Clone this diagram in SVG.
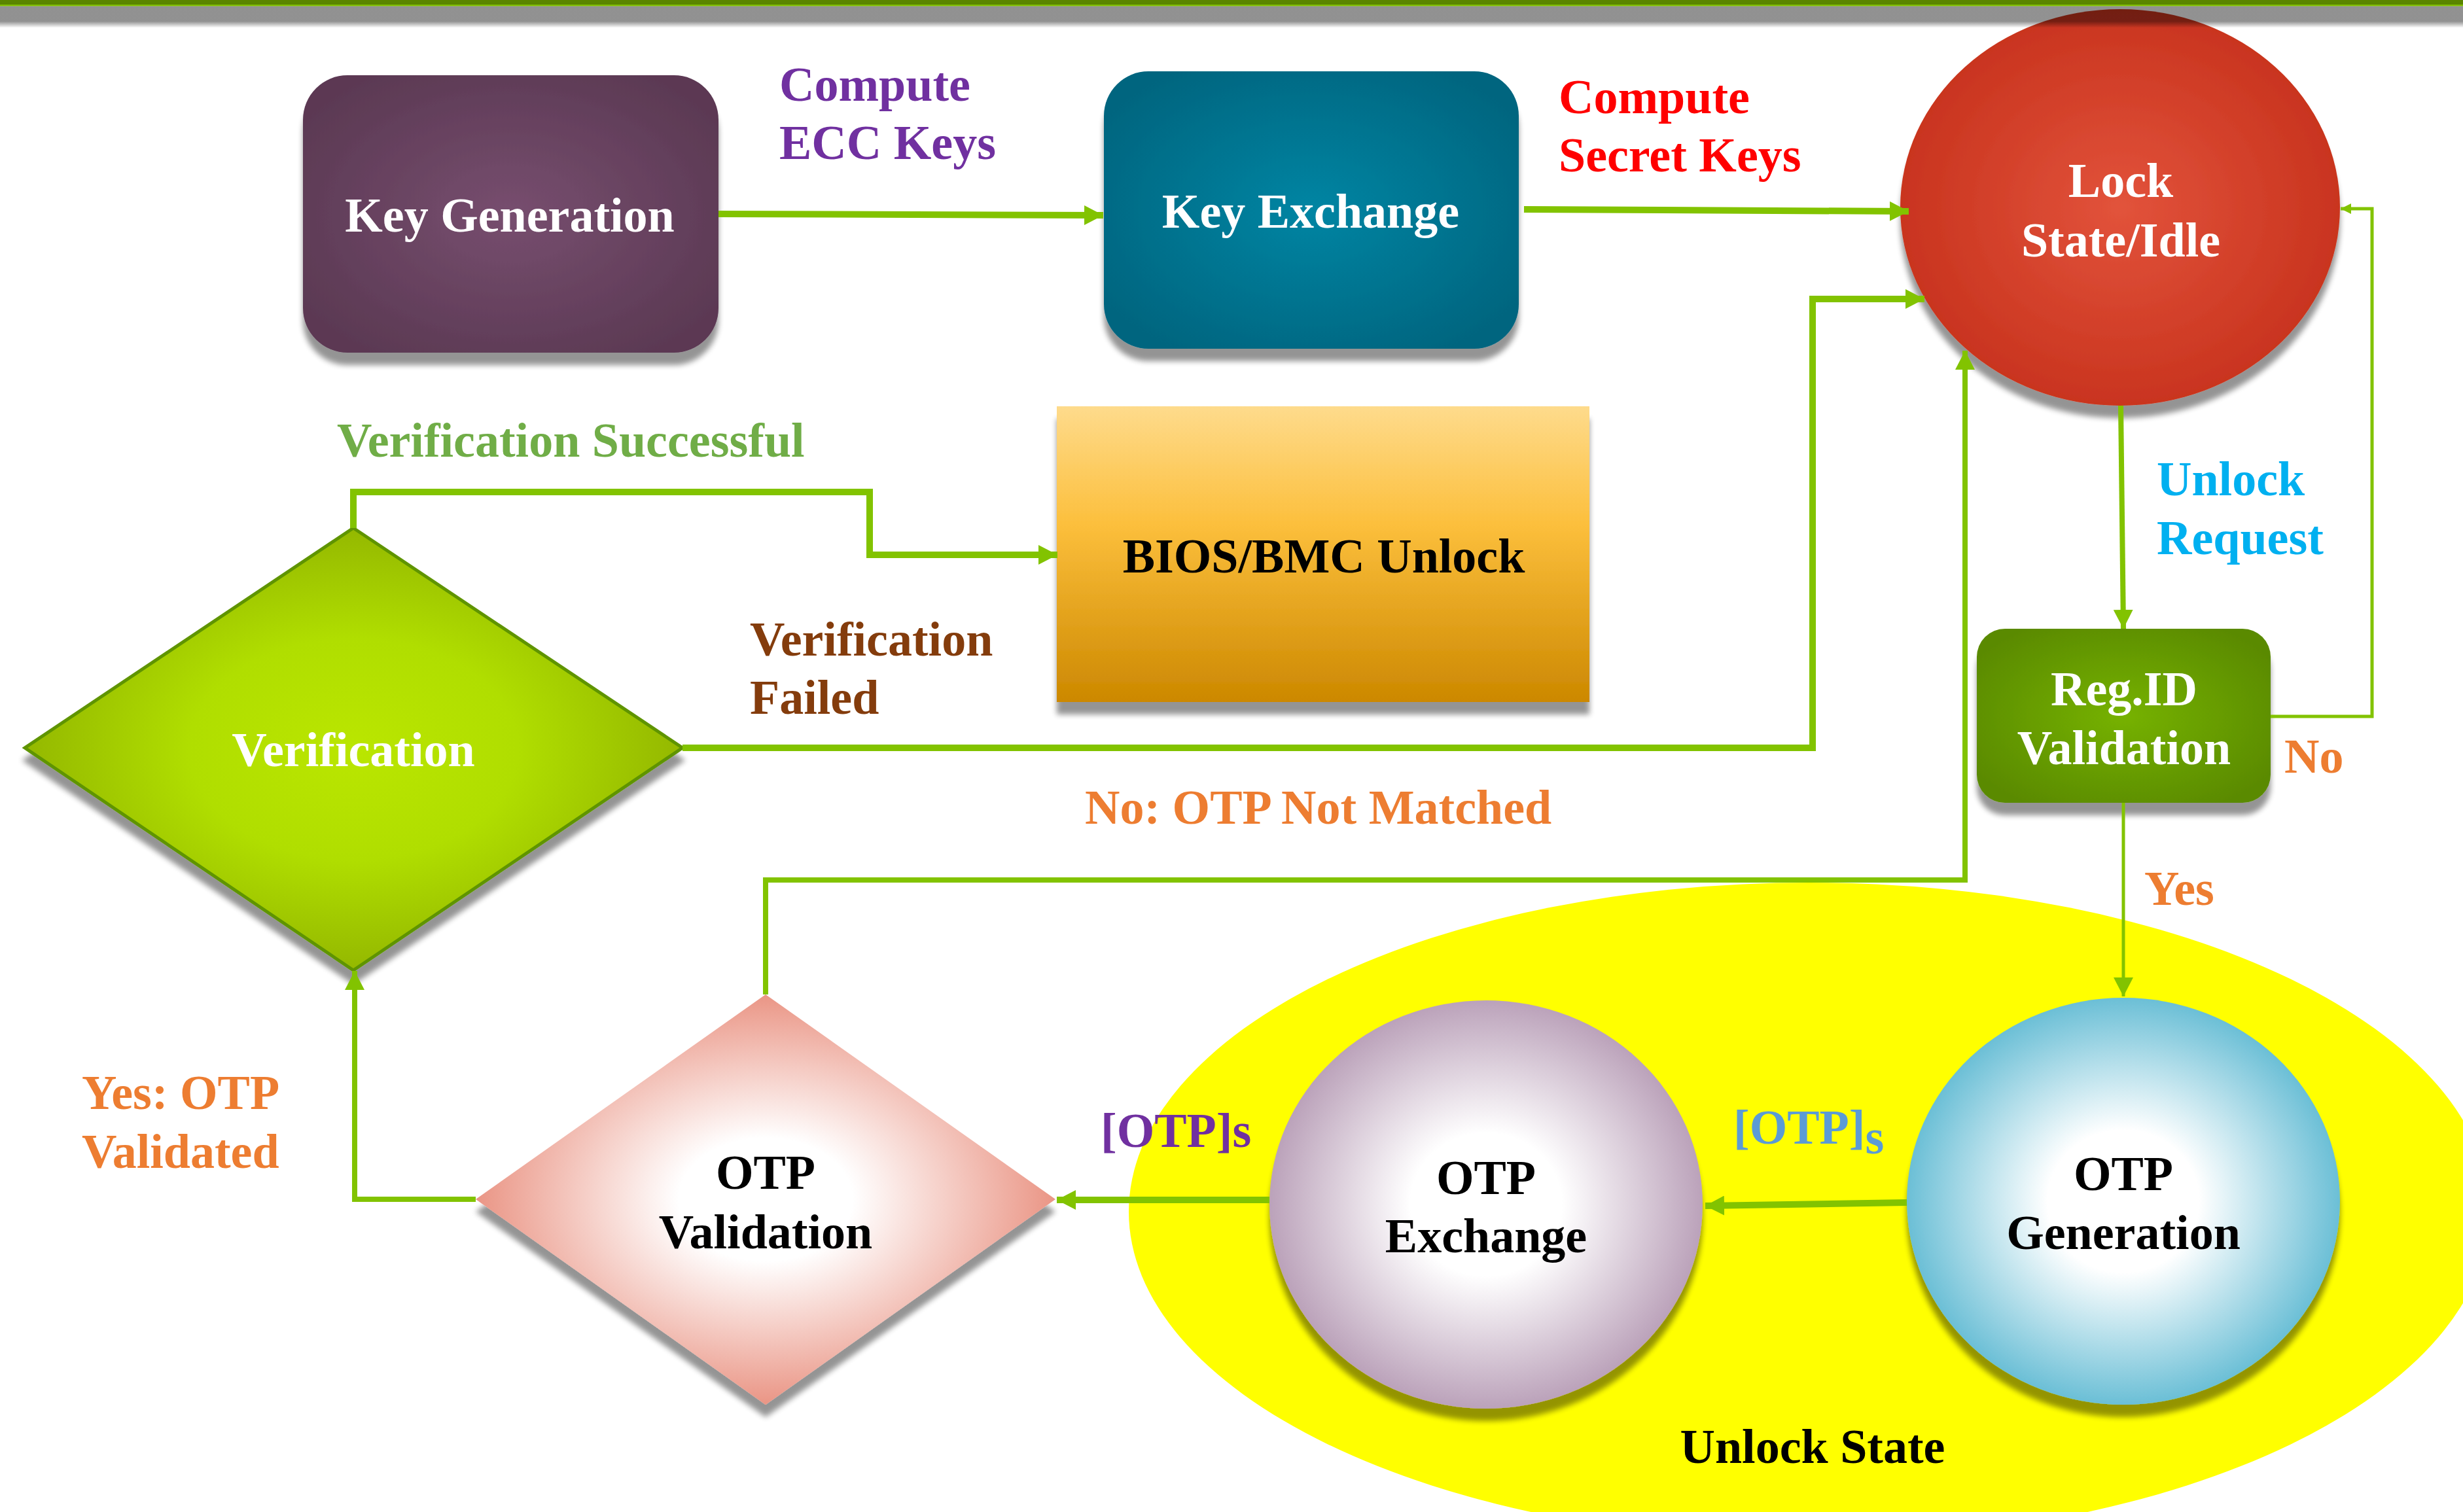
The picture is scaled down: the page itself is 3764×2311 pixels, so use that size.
<svg xmlns="http://www.w3.org/2000/svg" width="3764" height="2311" viewBox="0 0 3764 2311">
  <defs>
    <style>
      .lbl { font-family: "Liberation Serif", "Times New Roman", serif; font-weight: bold; font-size: 74px; }
      .mid { text-anchor: middle; }
      .white { fill: #ffffff; }
      .black { fill: #000000; }
      .orange { fill: #ed7d31; }
      .purple { fill: #7030a0; }
      .wire { fill: none; stroke: #82c300; stroke-linejoin: miter; }
      .thick { stroke-width: 10; }
      .mid-w { stroke-width: 8; }
      .thin { stroke-width: 5; }
    </style>

    <!-- soft drop shadow cast straight downwards -->
    <filter id="drop" x="-10%" y="-10%" width="125%" height="130%">
      <feGaussianBlur in="SourceAlpha" stdDeviation="4"/>
      <feOffset dx="0" dy="19" result="off"/>
      <feComponentTransfer><feFuncA type="linear" slope="0.42"/></feComponentTransfer>
      <feMerge><feMergeNode/><feMergeNode in="SourceGraphic"/></feMerge>
    </filter>

    <radialGradient id="gKeyGen" cx="0.5" cy="0.5" r="0.6">
      <stop offset="0" stop-color="#774e6f"/>
      <stop offset="1" stop-color="#5b3953"/>
    </radialGradient>
    <radialGradient id="gKeyExch" cx="0.5" cy="0.5" r="0.6">
      <stop offset="0" stop-color="#0085a3"/>
      <stop offset="1" stop-color="#00657f"/>
    </radialGradient>
    <radialGradient id="gLock" cx="0.5" cy="0.5" r="0.5">
      <stop offset="0" stop-color="#e2533b"/>
      <stop offset="1" stop-color="#c9341f"/>
    </radialGradient>
    <linearGradient id="gBios" x1="0" y1="0" x2="0" y2="1">
      <stop offset="0" stop-color="#fedb8c"/>
      <stop offset="0.4" stop-color="#fcbf3c"/>
      <stop offset="1" stop-color="#cc8800"/>
    </linearGradient>
    <radialGradient id="gRegId" cx="0.5" cy="0.5" r="0.6">
      <stop offset="0" stop-color="#76b200"/>
      <stop offset="1" stop-color="#5a8a00"/>
    </radialGradient>
    <radialGradient id="gVerif" cx="0.5" cy="0.5" r="0.5">
      <stop offset="0" stop-color="#bae600"/>
      <stop offset="0.5" stop-color="#b0de00"/>
      <stop offset="1" stop-color="#94b800"/>
    </radialGradient>
    <radialGradient id="gOtpVal" cx="0.5" cy="0.5" r="0.5">
      <stop offset="0.3" stop-color="#ffffff"/>
      <stop offset="1" stop-color="#ea9585"/>
    </radialGradient>
    <radialGradient id="gOtpExch" cx="0.5" cy="0.5" r="0.5">
      <stop offset="0.35" stop-color="#ffffff"/>
      <stop offset="1" stop-color="#bba2ba"/>
    </radialGradient>
    <radialGradient id="gOtpGen" cx="0.5" cy="0.5" r="0.5">
      <stop offset="0.35" stop-color="#ffffff"/>
      <stop offset="1" stop-color="#6bbfd6"/>
    </radialGradient>
    <linearGradient id="gHeaderShade" x1="0" y1="0" x2="0" y2="1">
      <stop offset="0" stop-color="#000000" stop-opacity="0.43"/>
      <stop offset="0.7" stop-color="#000000" stop-opacity="0.43"/>
      <stop offset="1" stop-color="#000000" stop-opacity="0"/>
    </linearGradient>

    <marker id="head" markerUnits="userSpaceOnUse" markerWidth="30" markerHeight="30" refX="29" refY="15" orient="auto">
      <path d="M0,0 L29,15 L0,30 Z" fill="#82c300"/>
    </marker>
    <marker id="headSmall" markerUnits="userSpaceOnUse" markerWidth="17" markerHeight="18" refX="16" refY="9" orient="auto">
      <path d="M0,1 L16,9 L0,17 Z" fill="#82c300"/>
    </marker>
  </defs>

  <rect x="0" y="0" width="3764" height="2311" fill="#ffffff"/>

  <!-- Unlock State region -->
  <g id="unlock-state">
    <ellipse cx="2765" cy="1852" rx="1040" ry="503" fill="#ffff00"/>
    <text class="lbl black mid" x="2770" y="2236">Unlock State</text>
  </g>

  <!-- nodes -->
  <g id="key-generation">
    <rect x="463" y="115" width="635" height="424" rx="68" ry="68" fill="url(#gKeyGen)" filter="url(#drop)"/>
    <text class="lbl white mid" x="779" y="354">Key Generation</text>
  </g>

  <g id="key-exchange">
    <rect x="1687" y="109" width="634" height="424" rx="68" ry="68" fill="url(#gKeyExch)" filter="url(#drop)"/>
    <text class="lbl white mid" x="2003" y="348">Key Exchange</text>
  </g>

  <g id="lock-state">
    <ellipse cx="3240" cy="317" rx="336" ry="303" fill="url(#gLock)" filter="url(#drop)"/>
    <text class="lbl white mid" x="3241" y="301">Lock</text>
    <text class="lbl white mid" x="3241" y="392">State/Idle</text>
  </g>

  <g id="bios-bmc-unlock">
    <rect x="1615" y="621" width="814" height="452" fill="url(#gBios)" filter="url(#drop)"/>
    <text class="lbl black mid" x="2023" y="875">BIOS/BMC Unlock</text>
  </g>

  <g id="regid-validation">
    <rect x="3021" y="961" width="449" height="266" rx="43" ry="43" fill="url(#gRegId)" filter="url(#drop)"/>
    <text class="lbl white mid" x="3246" y="1078">Reg.ID</text>
    <text class="lbl white mid" x="3246" y="1168">Validation</text>
  </g>

  <g id="verification">
    <polygon points="540,807 1043,1143 540,1483 38,1143" fill="url(#gVerif)" stroke="#5e9400" stroke-width="5" filter="url(#drop)"/>
    <text class="lbl white mid" x="540" y="1171">Verification</text>
  </g>

  <g id="otp-validation">
    <polygon points="1170,1520 1613,1833 1170,2147 727,1833" fill="url(#gOtpVal)" filter="url(#drop)"/>
    <text class="lbl black mid" x="1170" y="1817">OTP</text>
    <text class="lbl black mid" x="1170" y="1908">Validation</text>
  </g>

  <g id="otp-exchange">
    <ellipse cx="2271" cy="1841" rx="331" ry="312" fill="url(#gOtpExch)" filter="url(#drop)"/>
    <text class="lbl black mid" x="2271" y="1825">OTP</text>
    <text class="lbl black mid" x="2271" y="1914">Exchange</text>
  </g>

  <g id="otp-generation">
    <ellipse cx="3245" cy="1836" rx="331" ry="311" fill="url(#gOtpGen)" filter="url(#drop)"/>
    <text class="lbl black mid" x="3245" y="1819">OTP</text>
    <text class="lbl black mid" x="3245" y="1909">Generation</text>
  </g>

  <!-- connectors -->
  <g id="connectors">
    <path class="wire thick" d="M1098,327 L1686,329" marker-end="url(#head)"/>
    <path class="wire thick" d="M2329,320 L2917,323" marker-end="url(#head)"/>
    <path class="wire thick" d="M540,807 V752 H1329 V848 H1616" marker-end="url(#head)"/>
    <path class="wire thick" d="M1043,1143 H2770 V457 H2941" marker-end="url(#head)"/>
    <path class="wire mid-w" d="M1170,1520 V1345 H3003 V536" marker-end="url(#head)"/>
    <path class="wire mid-w" d="M3241,620 L3245,961" marker-end="url(#head)"/>
    <path class="wire thin" d="M3470,1095 H3625 V319 H3577" marker-end="url(#headSmall)"/>
    <path class="wire thin" d="M3245,1227 V1523" marker-end="url(#head)"/>
    <path class="wire thick" d="M2914,1838 L2606,1843" marker-end="url(#head)"/>
    <path class="wire thick" d="M1940,1834 H1615" marker-end="url(#head)"/>
    <path class="wire mid-w" d="M727,1833 H542 V1484" marker-end="url(#head)"/>
  </g>

  <!-- connector labels -->
  <g id="labels">
    <text class="lbl purple" x="1191" y="154">Compute</text>
    <text class="lbl purple" x="1191" y="243">ECC Keys</text>
    <text class="lbl" fill="#ff0000" x="2382" y="173">Compute</text>
    <text class="lbl" fill="#ff0000" x="2382" y="262">Secret Keys</text>
    <text class="lbl" fill="#00b0f0" x="3296" y="757">Unlock</text>
    <text class="lbl" fill="#00b0f0" x="3296" y="847">Request</text>
    <text class="lbl orange" x="3491" y="1181">No</text>
    <text class="lbl orange" x="3277" y="1383">Yes</text>
    <text class="lbl" fill="#70ad47" x="515" y="698">Verification Successful</text>
    <text class="lbl" fill="#843c0c" x="1146" y="1002">Verification</text>
    <text class="lbl" fill="#843c0c" x="1146" y="1091">Failed</text>
    <text class="lbl orange" x="1658" y="1259">No: OTP Not Matched</text>
    <text class="lbl orange" x="125" y="1695">Yes: OTP</text>
    <text class="lbl orange" x="125" y="1785">Validated</text>
    <text class="lbl purple" x="1682" y="1753">[OTP]s</text>
    <text class="lbl" fill="#5b9bd5" x="2649" y="1748">[OTP]<tspan dy="15">s</tspan></text>
  </g>

  <!-- header band with its shade -->
  <g id="header">
    <rect x="0" y="0" width="3764" height="7" fill="#5a8500"/>
    <rect x="0" y="7" width="3764" height="2.5" fill="#80c000"/>
    <rect x="0" y="9.5" width="3764" height="33" fill="url(#gHeaderShade)"/>
  </g>
</svg>
